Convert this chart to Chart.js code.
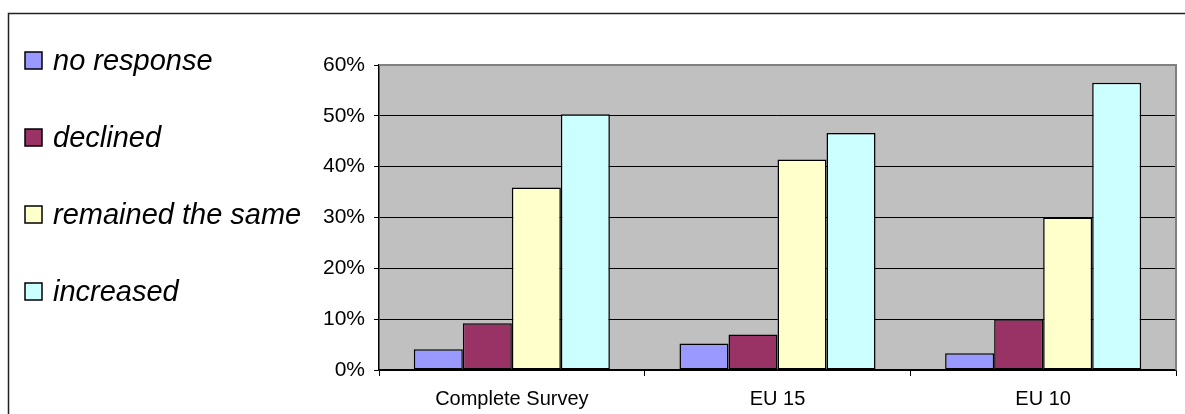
<!DOCTYPE html>
<html>
<head>
    <meta charset="utf-8" />
    <title>Survey chart</title>
    <script src="https://cdn.jsdelivr.net/npm/chart.js"></script>
    <style>
        body { margin: 0; background: #fff; }
        #wrap { position: relative; width: 1185px; height: 414px; }
    </style>
</head>
<body>
    <div id="wrap">
        <canvas id="myChart"></canvas>
    </div>

    <script>
        // values (shares 0..1)
        const categories = ['Complete Survey', 'EU 15', 'EU 10'];
        const seriesNames = ['no response', 'declined', 'remained the same', 'increased'];
        const noResponse = [0.041, 0.052, 0.033];
        const declined = [0.092, 0.070, 0.100];
        const remainedSame = [0.359, 0.414, 0.300];
        const increased = [0.503, 0.466, 0.565];
        const yTicks = [0, 0.1, 0.2, 0.3, 0.4, 0.5, 0.6];

        const colors = ['#9999FF', '#993366', '#FFFFCC', '#CCFFFF'];
        const values = [noResponse, declined, remainedSame, increased];

        const datasets = seriesNames.map(function (name, i) {
            return {
                label: name,
                data: values[i],
                backgroundColor: colors[i],
                borderColor: '#000',
                borderWidth: 1.5,
                borderSkipped: false,
                barPercentage: 1,
                categoryPercentage: 0.738
            };
        });

        // grey plot area, outer frame, custom legend on the left
        const decor = {
            id: 'decor',
            beforeDraw(chart) {
                const ctx = chart.ctx, a = chart.chartArea;
                ctx.save();
                ctx.fillStyle = '#C0C0C0';
                ctx.fillRect(a.left, a.top, a.right - a.left, a.bottom - a.top);
                ctx.strokeStyle = '#222';
                ctx.lineWidth = 1.5;
                ctx.beginPath();
                ctx.moveTo(8.5, 414);
                ctx.lineTo(8.5, 13.5);
                ctx.lineTo(1185, 13.5);
                ctx.stroke();
                ctx.restore();
            },
            afterDraw(chart) {
                const ctx = chart.ctx, a = chart.chartArea;
                ctx.save();
                ctx.strokeStyle = '#808080';
                ctx.lineWidth = 2;
                ctx.beginPath();
                ctx.moveTo(a.left, a.top);
                ctx.lineTo(a.right, a.top);
                ctx.lineTo(a.right, a.bottom);
                ctx.stroke();

                ctx.font = 'italic 29px "Liberation Sans", Arial, sans-serif';
                ctx.textBaseline = 'middle';
                chart.data.datasets.forEach(function (ds, i) {
                    const cy = 60 + i * 77;
                    ctx.fillStyle = ds.backgroundColor;
                    ctx.fillRect(25, cy - 8, 17, 17);
                    ctx.strokeStyle = '#000';
                    ctx.lineWidth = 1.5;
                    ctx.strokeRect(25, cy - 8, 17, 17);
                    ctx.fillStyle = '#000';
                    ctx.fillText(ds.label, 53, cy + 2);
                });
                ctx.restore();
            }
        };

        const config = {
            type: 'bar',
            data: { labels: categories, datasets: datasets },
            options: {
                responsive: true,
                maintainAspectRatio: false,
                animation: false,
                layout: { padding: { top: 65, right: 9, bottom: 0, left: 0 } },
                plugins: {
                    legend: { display: false },
                    tooltip: { enabled: false }
                },
                scales: {
                    x: {
                        afterFit: function (scale) { scale.height = 44; },
                        grid: {
                            offset: true,
                            drawOnChartArea: false,
                            drawTicks: true,
                            tickLength: 6,
                            color: '#000'
                        },
                        border: { display: true, color: '#000', width: 1.5 },
                        ticks: {
                            padding: 11,
                            color: '#000',
                            font: { family: '"Liberation Sans", Arial, sans-serif', size: 20 }
                        }
                    },
                    y: {
                        min: 0,
                        max: 0.6,
                        afterFit: function (scale) { scale.width = 379; },
                        afterBuildTicks: function (scale) {
                            scale.ticks = yTicks.map(function (v) { return { value: v }; });
                        },
                        grid: {
                            drawTicks: true,
                            tickLength: 5,
                            lineWidth: 1,
                            color: function (c) { return c.tick && c.tick.value === 0.6 ? '#808080' : '#000'; },
                            tickColor: '#000'
                        },
                        border: { display: true, color: '#000', width: 1.5 },
                        ticks: {
                            padding: 9,
                            color: '#000',
                            font: { family: '"Liberation Sans", Arial, sans-serif', size: 21 },
                            callback: function (v) { return Math.round(v * 100) + '%'; }
                        }
                    }
                }
            },
            plugins: [decor]
        };

        var myChart = new Chart(document.getElementById('myChart'), config);
    </script>
</body>
</html>
